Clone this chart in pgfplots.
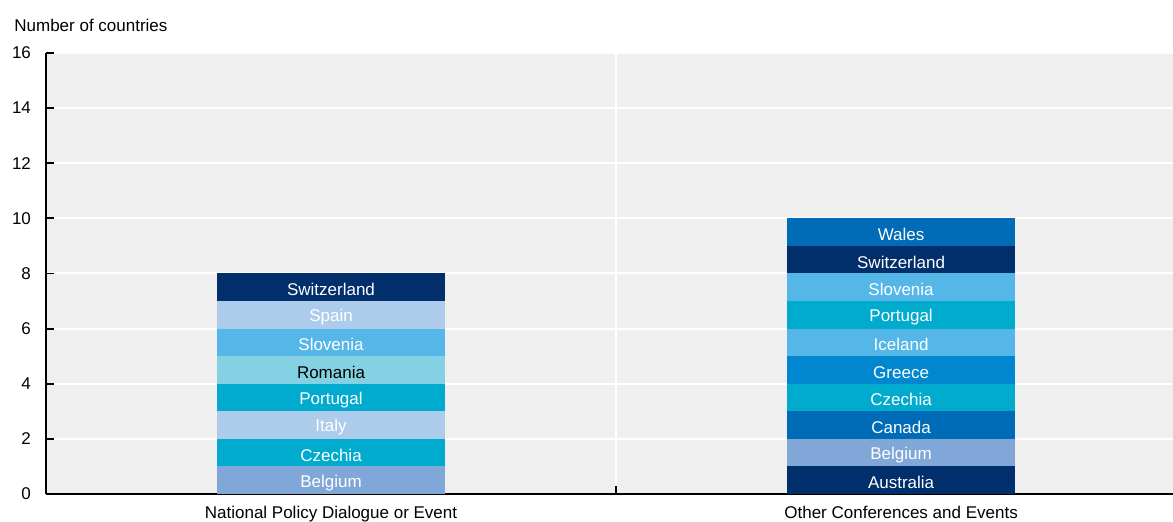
\documentclass[border=0pt]{standalone}
\usepackage{pgfplots}
\pgfplotsset{compat=1.18}
\usepackage{fontspec}
\setmainfont{Liberation Sans}
\definecolor{navy}{HTML}{002F6C}
\definecolor{lblue}{HTML}{ADCCEC}
\definecolor{sky}{HTML}{55B7E7}
\definecolor{lteal}{HTML}{83D1E3}
\definecolor{cyanb}{HTML}{00ABCE}
\definecolor{peri}{HTML}{80A7D8}
\definecolor{blueb}{HTML}{006BB6}
\definecolor{midb}{HTML}{0087D0}
\definecolor{bg}{HTML}{EFEFEF}
\newcommand{\lfont}{\fontsize{8.5}{10}\selectfont}
% #1 xleft, #2 xright, #3 xcenter, #4 lo, #5 hi, #6 mid, #7 fill, #8 text colour, #9 label
\newcommand{\seg}[9]{%
  \addplot[fill=#7, draw=none, forget plot] coordinates {(#1,#4) (#2,#4) (#2,#5) (#1,#5)} -- cycle;
  \node[text=#8, font=\lfont, yshift=-1.2pt] at (axis cs:#3,#6) {#9};
}
\begin{document}
\begin{tikzpicture}
\begin{axis}[
  at={(0,0)}, anchor=south west,
  scale only axis, width=563.5pt, height=220.5pt,
  xmin=-0.5, xmax=1.477, ymin=0, ymax=16,
  axis background/.style={fill=bg},
  axis x line*=bottom, axis y line*=left,
  axis line style={black, line width=0.9pt},
  ytick={0,2,...,16},
  ymajorgrids, xmajorgrids,
  grid style={white, line width=1pt},
  major tick length=4pt,
  tick style={black, line width=0.9pt},
  tick align=inside,
  xtick={0.5}, xticklabels={},
  extra x ticks={0,1},
  extra x tick labels={National Policy Dialogue or Event, Other Conferences and Events},
  extra x tick style={grid=none, major tick length=0pt},
  ticklabel style={font=\lfont},
  yticklabel style={xshift=-4pt},
  xticklabel style={yshift=-2.5pt},
  /pgf/number format/assume math mode=true,
  clip=false,
]
% National Policy Dialogue or Event
\seg{-0.2}{0.2}{0}{0}{1}{0.5}{peri}{white}{Belgium}
\seg{-0.2}{0.2}{0}{1}{2}{1.5}{cyanb}{white}{Czechia}
\seg{-0.2}{0.2}{0}{2}{3}{2.5}{lblue}{white}{Italy}
\seg{-0.2}{0.2}{0}{3}{4}{3.5}{cyanb}{white}{Portugal}
\seg{-0.2}{0.2}{0}{4}{5}{4.5}{lteal}{black}{Romania}
\seg{-0.2}{0.2}{0}{5}{6}{5.5}{sky}{white}{Slovenia}
\seg{-0.2}{0.2}{0}{6}{7}{6.5}{lblue}{white}{Spain}
\seg{-0.2}{0.2}{0}{7}{8}{7.5}{navy}{white}{Switzerland}
% Other Conferences and Events
\seg{0.8}{1.2}{1}{0}{1}{0.5}{navy}{white}{Australia}
\seg{0.8}{1.2}{1}{1}{2}{1.5}{peri}{white}{Belgium}
\seg{0.8}{1.2}{1}{2}{3}{2.5}{blueb}{white}{Canada}
\seg{0.8}{1.2}{1}{3}{4}{3.5}{cyanb}{white}{Czechia}
\seg{0.8}{1.2}{1}{4}{5}{4.5}{midb}{white}{Greece}
\seg{0.8}{1.2}{1}{5}{6}{5.5}{sky}{white}{Iceland}
\seg{0.8}{1.2}{1}{6}{7}{6.5}{cyanb}{white}{Portugal}
\seg{0.8}{1.2}{1}{7}{8}{7.5}{sky}{white}{Slovenia}
\seg{0.8}{1.2}{1}{8}{9}{8.5}{navy}{white}{Switzerland}
\seg{0.8}{1.2}{1}{9}{10}{9.5}{blueb}{white}{Wales}
\node[anchor=west, font=\lfont, inner sep=0pt] at ([xshift=-16pt, yshift=14pt]rel axis cs:0,1) {Number of countries};
\end{axis}
\pgfresetboundingbox
\path[use as bounding box] (-23pt,-14pt) rectangle (563.5pt,247pt);
\end{tikzpicture}
\end{document}
